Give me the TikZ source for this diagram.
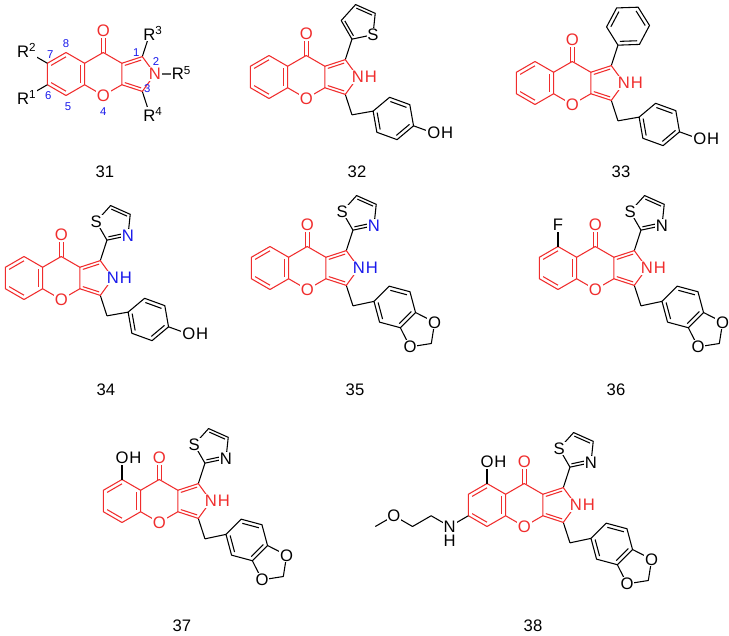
\documentclass[tikz,border=0pt]{standalone}
\usepackage{fontspec}
\setmainfont{Liberation Sans}
\usetikzlibrary{calc}
\definecolor{cr}{RGB}{240,45,45}
\definecolor{cb}{RGB}{25,25,235}
\newcommand\bondl{21.5}
\newcommand\pentr{18.29}
\newcommand\penta{14.8}
\newcommand\ringpts[5]{\foreach \k in {1,...,#5}{\coordinate (#1\k) at ($(#2)+({#4+360/#5*(\k-1)}:#3)$);}}
\newcommand\dbl[3]{\draw ($(#1)!0.2!(#3)$) -- ($(#2)!0.2!(#3)$);}
\newcommand\core[3]{%
\coordinate (#1B) at (#2,#3);
\coordinate (#1P) at ($(#1B)+(37.24,0)$);
\coordinate (#1Q) at ($(#1P)+(33.42,0)$);
\ringpts{#1b}{#1B}{\bondl}{-90}{6}
\ringpts{#1p}{#1P}{\bondl}{-90}{6}
\ringpts{#1q}{#1Q}{\pentr}{216}{5}
\coordinate (#1co) at ($(#1p1)+(0,-\bondl)$);
\coordinate (#1X) at ($(#1q2)+(288:\bondl)$);
\coordinate (#1C) at ($(#1q4)+(72:\bondl)$);
\draw (#1q2)--(#1X) (#1q4)--(#1C);
\begin{scope}[cr]
\draw (#1b1)--(#1b2)--(#1b3)--(#1b4)--(#1b5)--(#1b6)--cycle;
\draw (#1p6)--(#1p1)--(#1p2)--(#1p3)--(#1p4)--(#1p5);
\draw (#1q1)--(#1q2)--(#1q3)--(#1q4)--(#1q5);
\dbl{#1b2}{#1b3}{#1B}\dbl{#1b4}{#1b5}{#1B}\dbl{#1b6}{#1b1}{#1B}
\dbl{#1q1}{#1q2}{#1Q}\dbl{#1q4}{#1q5}{#1Q}
\draw ($(#1p1)+(-1.8,0)$)--($(#1co)+(-1.8,0)$) ($(#1p1)+(1.8,0)$)--($(#1co)+(1.8,0)$);
\node[lab,text=cr] (#1Oc) at (#1co) {O};
\node[lab,text=cr] (#1Or) at (#1p4) {O};
\end{scope}}
\newcommand\NH[2]{\node[lab,text=#2] (#1N) at (#1q3) {N};
\node[lab,text=#2,anchor=west,inner sep=0pt,xshift=-0.8pt] (#1Hn) at (#1N.east) {H};}
\newcommand\OH[3]{\node[lab] (#1) at (#2) {O};
\node[lab,anchor=west,inner sep=0pt,xshift=-0.8pt] (#1h) at (#1.east) {H};}
\newcommand\thiaz[3]{%
\coordinate (#1T) at ($(#2)+(-66:\pentr)$);
\ringpts{#1t}{#1T}{\pentr}{114}{5}
\draw (#1t1)--(#1t2)--(#1t3)--(#1t4)--(#1t5)--cycle;
\dbl{#1t1}{#1t5}{#1T}\dbl{#1t3}{#1t4}{#1T}
\node[lab] (#1S) at (#1t2) {S};
\node[lab,text=#3] (#1Nz) at (#1t5) {N};}
\newcommand\phenol[1]{%
\coordinate (#1A) at ($(#1C)+(-10:\bondl)$);
\coordinate (#1R) at ($(#1A)+(20:\bondl)$);
\ringpts{#1h}{#1R}{\bondl}{200}{6}
\coordinate (#1o) at ($(#1h4)+(20:\bondl)$);
\draw (#1C)--(#1A) (#1h1)--(#1h2)--(#1h3)--(#1h4)--(#1h5)--(#1h6)--cycle (#1h4)--(#1o);
\dbl{#1h2}{#1h3}{#1R}\dbl{#1h4}{#1h5}{#1R}\dbl{#1h6}{#1h1}{#1R}
\OH{#1OH}{#1o}{}}
\newcommand\diox[1]{%
\coordinate (#1A) at ($(#1C)+(-12:\bondl)$);
\coordinate (#1R) at ($(#1A)+(15:\bondl)$);
\ringpts{#1h}{#1R}{\bondl}{195}{6}
\coordinate (#1M) at ($(#1h4)!0.5!(#1h5)$);
\coordinate (#1Pc) at ($(#1M)+(45:\penta)$);
\coordinate (#1o1) at ($(#1Pc)+(333:\pentr)$);
\coordinate (#1cm) at ($(#1Pc)+(45:\pentr)$);
\coordinate (#1o2) at ($(#1Pc)+(117:\pentr)$);
\draw (#1C)--(#1A) (#1h1)--(#1h2)--(#1h3)--(#1h4)--(#1h5)--(#1h6)--cycle;
\draw (#1h4)--(#1o1)--(#1cm)--(#1o2)--(#1h5);
\dbl{#1h2}{#1h3}{#1R}\dbl{#1h4}{#1h5}{#1R}\dbl{#1h6}{#1h1}{#1R}
\node[lab] (#1O1) at (#1o1) {O};
\node[lab] (#1O2) at (#1o2) {O};}
\begin{document}
\begin{tikzpicture}[x=0.75pt,y=-0.75pt,line width=0.8pt,line join=round,
 lab/.style={fill=white,inner sep=0.6pt,font=\fontsize{12.5}{13}\selectfont},
 num/.style={text=cb,font=\fontsize{8.5}{9}\selectfont,inner sep=0pt},
 molcap/.style={font=\fontsize{12.5}{13}\selectfont}]
\useasboundingbox (0,0) rectangle (729,636);
% 31
\core{a}{66}{74}
\coordinate (aR2) at ($(ab6)+(210:\bondl)$);
\coordinate (aR1) at ($(ab5)+(150:\bondl)$);
\coordinate (aR5) at ($(aq3)+(0:\bondl)$);
\draw (ab6)--(aR2) (ab5)--(aR1) (aq3)--(aR5);
\node[lab,text=cr] (aN) at (aq3) {N};
\node[lab] (aR3l) at ($(aX)+(4,-3)$) {R\textsuperscript{3}};
\node[lab] (aR4l) at ($(aC)+(4,3)$) {R\textsuperscript{4}};
\node[lab] (aR5l) at ($(aR5)+(5,-1)$) {R\textsuperscript{5}};
\node[lab] (aR2l) at ($(aR2)+(-2,-2)$) {R\textsuperscript{2}};
\node[lab] (aR1l) at ($(aR1)+(-2,2)$) {R\textsuperscript{1}};
\node[num] (n8) at ($(ab1)+(0,-9)$) {8};
\node[num] (n7) at ($(ab6)+(3,-9)$) {7};
\node[num] (n6) at ($(ab5)+(1,11)$) {6};
\node[num] (n5) at ($(ab4)+(2,11)$) {5};
\node[num] (n4) at ($(ap4)+(0,16)$) {4};
\node[num] (n3) at ($(aq4)+(5,-3)$) {3};
\node[num] (n2) at ($(aq3)+(1,-12)$) {2};
\node[num] (n1) at ($(aq2)+(-6,-4)$) {1};
% 32
\core{b}{269}{77}
\coordinate (bT) at ($(bX)+(-66:\pentr)$);
\ringpts{bt}{bT}{\pentr}{114}{5}
\draw (bt1)--(bt2)--(bt3)--(bt4)--(bt5)--cycle;
\dbl{bt1}{bt2}{bT}\dbl{bt3}{bt4}{bT}
\node[lab] (bS) at (bt5) {S};
\NH{b}{cr}
\phenol{b}
% 33
\core{c}{535}{83}
\coordinate (cPh) at ($(cX)+(-62:\bondl)$);
\ringpts{cf}{cPh}{\bondl}{118}{6}
\draw (cf1)--(cf2)--(cf3)--(cf4)--(cf5)--(cf6)--cycle;
\dbl{cf2}{cf3}{cPh}\dbl{cf4}{cf5}{cPh}\dbl{cf6}{cf1}{cPh}
\NH{c}{cr}
\phenol{c}
% 34
\core{d}{24}{278}
\thiaz{d}{dX}{cb}
\NH{d}{cb}
\phenol{d}
% 35
\core{e}{270}{268}
\thiaz{e}{eX}{cb}
\NH{e}{cb}
\diox{e}
% 36
\core{f}{558}{268}
\coordinate (fF) at ($(fb1)+(-90:\bondl)$);
\draw (fb1)--(fF);
\node[lab] (fFl) at (fF) {F};
\thiaz{f}{fX}{black}
\NH{f}{cr}
\diox{f}
% 37
\core{g}{122}{501}
\coordinate (go) at ($(gb1)+(-90:\bondl)$);
\draw (gb1)--(go);
\OH{gOH}{go}{}
\thiaz{g}{gX}{black}
\NH{g}{cr}
\diox{g}
% 38
\core{h}{487}{505}
\coordinate (ho) at ($(hb1)+(-90:\bondl)$);
\draw (hb1)--(ho);
\OH{hOH}{ho}{}
\coordinate (hn) at ($(hb5)+(150:\bondl)$);
\coordinate (hc1) at ($(hn)+(210:\bondl)$);
\coordinate (hc2) at ($(hc1)+(150:\bondl)$);
\coordinate (hoo) at ($(hc2)+(210:\bondl)$);
\coordinate (hc3) at ($(hoo)+(150:\bondl)$);
\draw (hb5)--(hn)--(hc1)--(hc2)--(hoo)--(hc3);
\node[lab] (hNa) at (hn) {N};
\node[lab,anchor=north,inner sep=0pt,yshift=-0.5pt] (hHa) at (hNa.south) {H};
\node[lab] (hOm) at (hoo) {O};
\thiaz{h}{hX}{black}
\NH{h}{cr}
\diox{h}
% captions
\node[molcap] (l31) at (105,172) {31};
\node[molcap] (l32) at (357,172) {32};
\node[molcap] (l33) at (621,172) {33};
\node[molcap] (l34) at (106,390) {34};
\node[molcap] (l35) at (355,390) {35};
\node[molcap] (l36) at (616,390) {36};
\node[molcap] (l37) at (182,626) {37};
\node[molcap] (l38) at (533,626) {38};
\end{tikzpicture}
\end{document}
